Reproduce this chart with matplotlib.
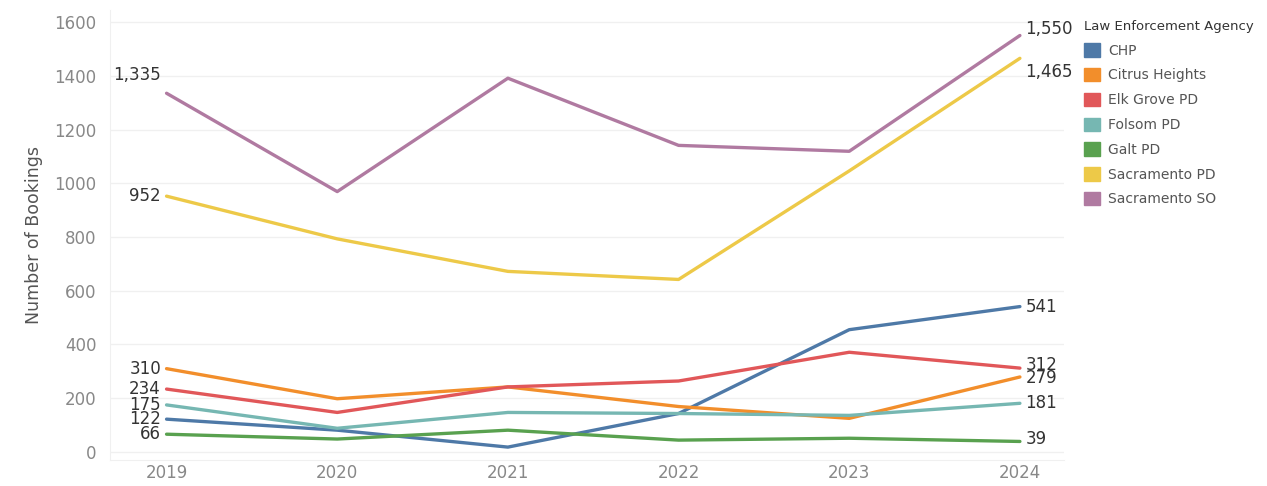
import matplotlib
matplotlib.use("Agg")
import matplotlib.pyplot as plt
from matplotlib.patches import Patch

years = [2019, 2020, 2021, 2022, 2023, 2024]
agencies = ["CHP", "Citrus Heights", "Elk Grove PD", "Folsom PD", "Galt PD",
            "Sacramento PD", "Sacramento SO"]
chp = [122, 81, 18, 143, 455, 541]
citrus = [310, 198, 242, 169, 125, 279]
elk_grove = [234, 147, 242, 264, 371, 312]
folsom = [175, 88, 147, 143, 136, 181]
galt = [66, 48, 81, 44, 51, 39]
sac_pd = [952, 793, 672, 642, 1046, 1465]
sac_so = [1335, 969, 1391, 1141, 1119, 1550]
series = [chp, citrus, elk_grove, folsom, galt, sac_pd, sac_so]
colors = ["#4e79a7", "#f28e2b", "#e15759", "#76b7b2", "#59a14f", "#edc948", "#b07aa1"]

# label offsets in points (start, end) so overlapping labels sit like the original
start_off = [0, 0, 0, 0, 0, 0, 13]
end_off = [0, -1, 2, 0, 2, -10, 5]

fig = plt.figure(figsize=(12.67, 4.86), dpi=100)
ax = fig.add_axes([0.087, 0.0535, 0.753, 0.926])

for vals, c, so, eo in zip(series, colors, start_off, end_off):
    ax.plot(years, vals, color=c, lw=2.4, solid_capstyle="round")
    ax.annotate("{:,}".format(vals[0]), (years[0], vals[0]), xytext=(-4, so),
                textcoords="offset points", ha="right", va="center",
                fontsize=12, color="#333333")
    ax.annotate("{:,}".format(vals[-1]), (years[-1], vals[-1]), xytext=(4, eo),
                textcoords="offset points", ha="left", va="center",
                fontsize=12, color="#333333")

ax.set_xlim(2018.67, 2024.26)
ax.set_ylim(-30, 1645)
ax.set_xticks(years)
ax.set_yticks(range(0, 1601, 200))
ax.tick_params(length=0, labelsize=12, labelcolor="#888888")
ax.tick_params(axis="x", pad=3)
ax.tick_params(axis="y", pad=10)
ax.grid(axis="y", color="#f0f0f0", lw=1)
ax.set_axisbelow(True)
for s in ["top", "right"]:
    ax.spines[s].set_visible(False)
for s in ["left", "bottom"]:
    ax.spines[s].set_color("#f0f0f0")
ax.set_ylabel("Number of Bookings", fontsize=12.5, color="#555555", labelpad=8)

handles = [Patch(facecolor=c, edgecolor=c) for c in colors]
leg = fig.legend(handles, agencies, loc="upper left", bbox_to_anchor=(0.846, 0.985),
                 frameon=False, fontsize=10, title="Law Enforcement Agency",
                 title_fontsize=9.5, handlelength=1.1, handleheight=1.1,
                 handletextpad=0.6, labelspacing=0.75, alignment="left",
                 labelcolor="#555555")
leg.get_title().set_color("#333333")

fig.savefig("out.png", dpi=100)
